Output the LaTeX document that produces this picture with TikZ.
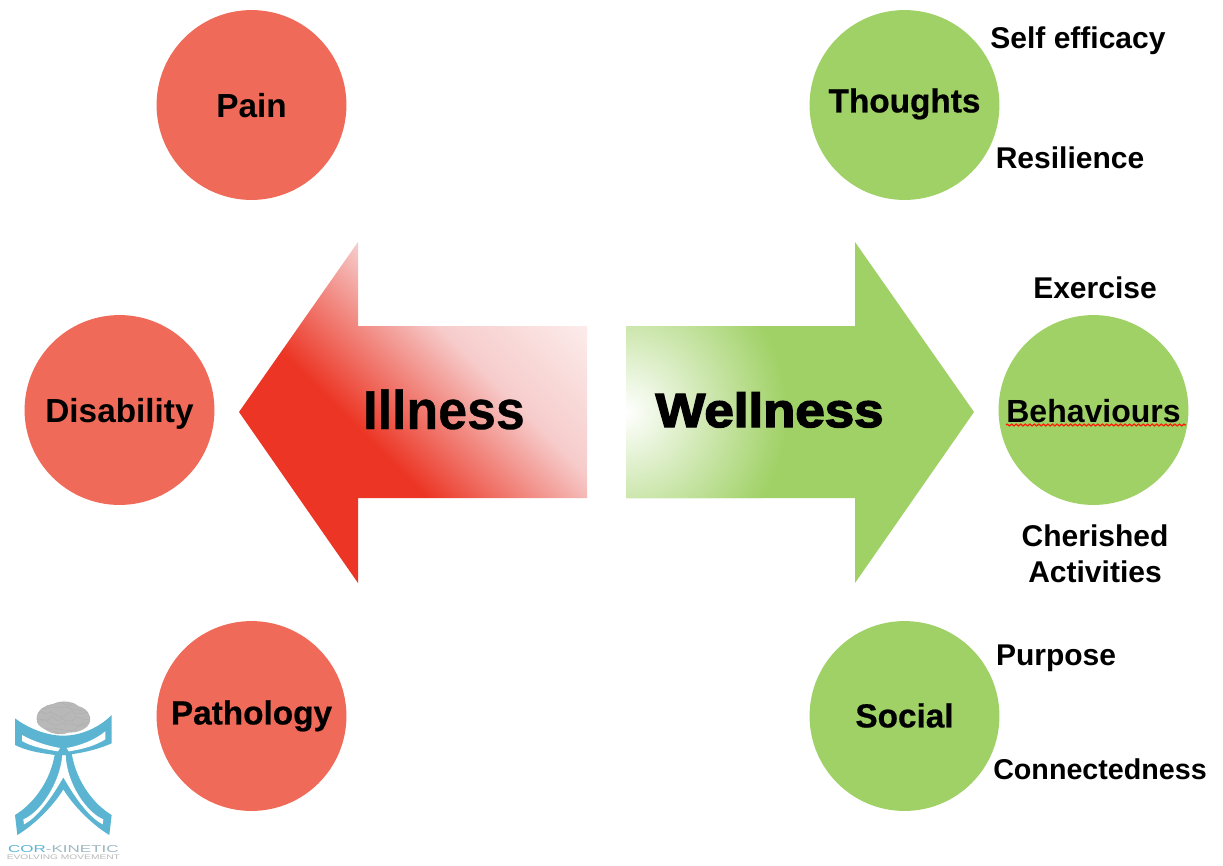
\documentclass[tikz,border=0pt]{standalone}
\usepackage{fontspec}
\setmainfont{Liberation Sans}
\newfontfamily\heavy[FakeBold=3]{Liberation Sans Bold}
\newfontfamily\medheavy[FakeBold=0.6]{Liberation Sans Bold}
\usetikzlibrary{decorations.pathmorphing}
\definecolor{redc}{HTML}{EF6A58}
\definecolor{greenc}{HTML}{A0D166}
\definecolor{arrowred}{HTML}{EC3524}
\definecolor{pinkmid}{HTML}{F6CCCB}
\definecolor{pinkend}{HTML}{FCEEED}
\definecolor{logoblue}{HTML}{5BB4D2}
\definecolor{logogray}{HTML}{B8B8B8}
\pgfdeclarehorizontalshading{illshade}{400bp}{color(0bp)=(arrowred); color(175bp)=(arrowred); color(272bp)=(pinkmid); color(356bp)=(pinkend)}
\pgfdeclareradialshading{wellshade}{\pgfpoint{0bp}{0bp}}{color(0bp)=(white); color(120bp)=(greenc)}
\tikzset{
  disc/.style={circle,inner sep=0pt,outer sep=0pt,minimum size=142.4pt,font=\bfseries\fontsize{25}{25}\selectfont,text depth=0pt},
  redd/.style={disc,fill=redc},
  greend/.style={disc,fill=greenc},
  note/.style={font=\bfseries\fontsize{22.5}{27}\selectfont,align=center,inner sep=0pt},
  basenote/.style={note,anchor=base},
  band/.style={fill=logoblue}
}
\begin{document}
\begin{tikzpicture}[x=0.75pt,y=-0.75pt]
\useasboundingbox (0,0) rectangle (1223,865);
% Illness arrow
\begin{scope}
\clip (239,412) -- (358,242) -- (358,326) -- (587,326) -- (587,498) -- (358,498) -- (358,583) -- cycle;
\node[rotate=45,inner sep=0pt,outer sep=0pt] (illgrad) at (380,445) {\pgfuseshading{illshade}};
\end{scope}
% Wellness arrow
\begin{scope}
\clip (626,326) -- (855,326) -- (855,242) -- (974,412) -- (855,583) -- (855,498) -- (626,498) -- cycle;
\fill[greenc] (600,220) rectangle (1000,600);
\node[inner sep=0pt,outer sep=0pt] (wellgrad) at (626,412) {\pgfuseshading{wellshade}};
\end{scope}
\node[font=\fontsize{41}{41}\selectfont,inner sep=0pt,anchor=base,xscale=0.95] (illness) at (444,429) {\medheavy Illness};
\node[font=\fontsize{36}{36}\selectfont,inner sep=0pt,anchor=base,xscale=1.1] (wellness) at (769.5,427) {\heavy Wellness};
% Circles
\node[redd,text height=18.6pt] (pain) at (251.5,105) {Pain};
\node[redd,text height=18.6pt] (disability) at (119.5,410) {Disability};
\node[redd,text height=12.6pt] (pathology) at (251.5,716) {\medheavy Pathology};
\node[greend,text height=11.1pt] (thoughts) at (904.5,105) {\medheavy Thoughts};
\node[greend,text height=18.6pt,font=\bfseries\fontsize{24}{24}\selectfont] (behaviours) at (1093.5,410) {Behaviours};
\node[greend,text height=17.1pt] (social) at (904.5,716) {\medheavy Social};
\draw[red!80!orange,line width=0.9pt,decorate,decoration={zigzag,segment length=3.4pt,amplitude=0.7pt}] (1006,425) -- (1186,425);
% Notes
\node[basenote] (selfeff) at (1078,48) {Self efficacy};
\node[basenote] (resil) at (1070,168) {Resilience};
\node[basenote] (exercise) at (1095,298) {Exercise};
\node[note] (cherished) at (1095,554) {Cherished\\Activities};
\node[basenote] (purpose) at (1056,665) {Purpose};
\node[basenote,font=\bfseries\fontsize{21.5}{27}\selectfont] (connect) at (1100,779) {Connectedness};
% Logo
\begin{scope}[x=0.25pt,y=-0.25pt,shift={(0pt,-517.5pt)}]
% legs
\fill[band] (165,190) -- (215,190) .. controls (230,280) and (285,345) .. (335,375) -- (328,435) .. controls (270,400) and (215,340) .. (190,298) .. controls (165,340) and (110,400) .. (52,435) -- (45,375) .. controls (95,345) and (150,280) .. (165,190) -- cycle;
\fill[white] (187,195) .. controls (180,280) and (120,368) .. (70,388) -- (72,403) .. controls (120,378) and (165,305) .. (190,262) .. controls (215,305) and (260,378) .. (308,403) -- (310,388) .. controls (260,368) and (200,280) .. (197,195) -- cycle;
% arms
\fill[band] (45,85) .. controls (85,115) and (140,137) .. (190,137) .. controls (240,137) and (295,115) .. (335,75) -- (335,160) .. controls (290,180) and (240,190) .. (198,195) -- (165,195) .. controls (130,190) and (85,185) .. (45,165) -- cycle;
\fill[white] (66,135) .. controls (100,154) and (140,167) .. (180,174) -- (174,184) .. controls (135,178) and (95,170) .. (66,153) -- cycle;
\fill[white] (316,124) .. controls (285,150) and (240,167) .. (200,174) -- (206,184) .. controls (245,178) and (285,168) .. (316,148) -- cycle;
% brain
\begin{scope}
\path[clip] (110,85) .. controls (110,60) and (135,45) .. (160,42) .. controls (185,30) and (215,32) .. (235,48) .. controls (260,55) and (275,75) .. (270,95) .. controls (262,118) and (235,128) .. (205,128) .. controls (180,138) and (150,130) .. (135,118) .. controls (118,110) and (108,100) .. (110,85) -- cycle;
\fill[logogray] (100,25) rectangle (280,140);
\pgfmathsetseed{7}
\foreach \yy in {44,58,...,134}
  \draw[gray!65,line width=0.25pt,line join=round,decorate,decoration={random steps,segment length=4pt,amplitude=2pt}] (105,\yy) -- (275,\yy);
\end{scope}
\node[inner sep=0pt,anchor=center,text=logoblue,font=\fontsize{7.5}{8}\selectfont,xscale=1.7] (corkin) at (190,478) {COR\textcolor{logogray!70!logoblue}{-KINETIC}};
\node[inner sep=0pt,anchor=center,text=logogray,font=\fontsize{5}{6}\selectfont,xscale=1.53] (evolve) at (190,503) {EVOLVING MOVEMENT};
\end{scope}
\end{tikzpicture}
\end{document}
